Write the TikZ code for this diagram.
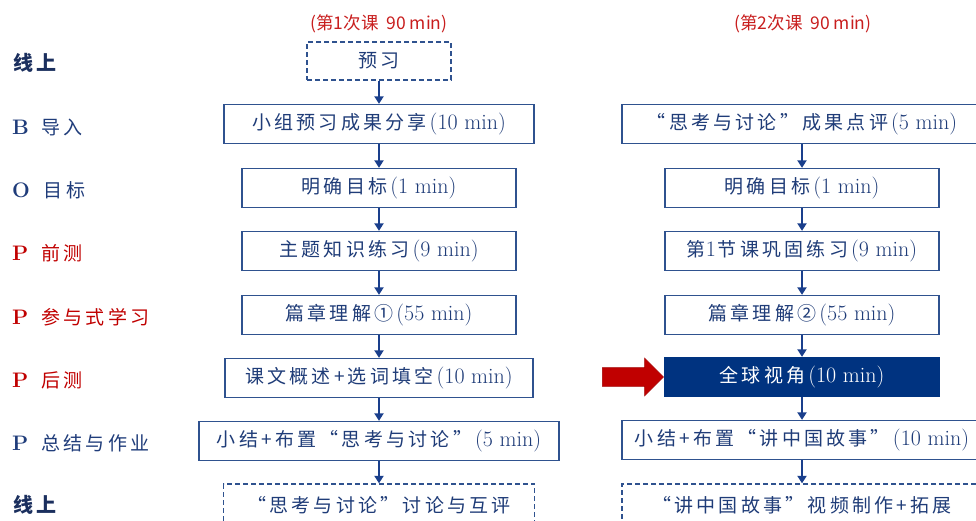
\documentclass[tikz,border=0pt]{standalone}
\usepackage{fontspec}
\usetikzlibrary{arrows.meta,shapes.arrows}
\newfontfamily\cjk[LetterSpace=17]{Noto Sans CJK SC}
\newfontfamily\cjkhead{Noto Sans CJK SC}
\newcommand\lat[1]{\hspace{3pt}{\fontsize{22}{22}\selectfont #1}}
\definecolor{boxblue}{HTML}{2F528F}
\definecolor{txtblue}{HTML}{1F3C78}
\definecolor{arrowblue}{HTML}{1A3F8C}
\definecolor{navyfill}{HTML}{003380}
\definecolor{arrowred}{HTML}{C00000}
\definecolor{headred}{HTML}{C81E1E}
\definecolor{labelblue}{HTML}{1F3C7A}
\definecolor{labelred}{HTML}{C00000}
\definecolor{labelnavy}{HTML}{1B2F5E}
\tikzset{
  box/.style={draw=boxblue, line width=1.3pt, fill=white, text=txtblue, minimum height=39pt, inner sep=0pt, font=\fontsize{19}{19}\selectfont},
  dbox/.style={box, dash pattern=on 5pt off 3pt},
  fbox/.style={box, draw=navyfill, fill=navyfill, text=white},
  flow/.style={draw=arrowblue, line width=2.4pt, -{Triangle[length=7.5pt,width=9pt]}},
  lbl/.style={anchor=west, inner sep=0pt, font=\fontsize{19}{19}\selectfont},
  head/.style={inner sep=0pt, text=headred, font=\cjkhead\fontsize{17.5}{17.5}\selectfont}
}
\begin{document}
\begin{tikzpicture}[x=1pt,y=-1pt]
\useasboundingbox (0,0) rectangle (976,520);
\clip (0,0) rectangle (976,520);
% headers
\node[head] (h1) at (379,24) {(第1次课\ \ 90 min)};
\node[head] (h2) at (803,24) {(第2次课\ \ 90 min)};
% left labels
\node[lbl, text=labelnavy, font=\fontsize{20}{20}\selectfont] (s0) at (13,63) {\cjk\bfseries 线上};
\node[lbl, text=labelblue] (s1) at (12,127) {{\fontsize{21}{21}\selectfont\bfseries B}\hspace{12pt}{\cjk 导入}};
\node[lbl, text=labelblue] (s2) at (12,190) {{\fontsize{21}{21}\selectfont\bfseries O}\hspace{14pt}{\cjk 目标}};
\node[lbl, text=labelred] (s3) at (12,253) {{\fontsize{21}{21}\selectfont\bfseries P}\hspace{13pt}{\cjk 前测}};
\node[lbl, text=labelred] (s4) at (12,317) {{\fontsize{21}{21}\selectfont\bfseries P}\hspace{13pt}{\cjk 参与式学习}};
\node[lbl, text=labelred] (s5) at (12,380) {{\fontsize{21}{21}\selectfont\bfseries P}\hspace{13pt}{\cjk 后测}};
\node[lbl, text=labelblue] (s6) at (12,443) {{\fontsize{21}{21}\selectfont\bfseries P}\hspace{13pt}{\cjk 总结与作业}};
\node[lbl, text=labelnavy, font=\fontsize{20}{20}\selectfont] (s7) at (13,505) {\cjk\bfseries 线上};
% left column
\node[dbox, minimum width=144pt, minimum height=38pt] (l0) at (379,61) {\cjk 预习};
\node[box, minimum width=310pt] (l1) at (379,124) {{\cjk 小组预习成果分享}\lat{(10 min)}};
\node[box, minimum width=274pt] (l2) at (379,188) {{\cjk 明确目标}\lat{(1 min)}};
\node[box, minimum width=274pt] (l3) at (379,251) {{\cjk 主题知识练习}\lat{(9 min)}};
\node[box, minimum width=274pt] (l4) at (379,315) {{\cjk 篇章理解①}\lat{(55 min)}};
\node[box, minimum width=308pt] (l5) at (379,378) {{\cjk 课文概述+选词填空}\lat{(10 min)}};
\node[box, minimum width=360pt] (l6) at (379,441) {{\cjk 小结+布置“思考与讨论”}\lat{(5 min)}};
\node[dbox, minimum width=311pt, minimum height=42pt] (l7) at (379,505) {\cjk “思考与讨论”讨论与互评};
% right column
\node[box, minimum width=360pt] (r1) at (802,124) {{\cjk “思考与讨论”成果点评}\lat{(5 min)}};
\node[box, minimum width=274pt] (r2) at (802,188) {{\cjk 明确目标}\lat{(1 min)}};
\node[box, minimum width=274pt] (r3) at (802,251) {{\cjk 第}{\fontsize{22}{22}\selectfont 1}\hspace{2pt}{\cjk 节课巩固练习}\lat{(9 min)}};
\node[box, minimum width=274pt] (r4) at (802,315) {{\cjk 篇章理解②}\lat{(55 min)}};
\node[fbox, minimum width=275pt] (r5) at (802,377) {{\cjk 全球视角}\lat{(10 min)}};
\node[box, minimum width=360pt] (r6) at (802,440) {{\cjk 小结+布置“讲中国故事”}\lat{(10 min)}};
\node[dbox, minimum width=360pt, minimum height=42pt] (r7) at (802,505) {\cjk “讲中国故事”视频制作+拓展};
% connectors
\draw[flow] (l0) -- (l1);
\draw[flow] (l1) -- (l2);
\draw[flow] (l2) -- (l3);
\draw[flow] (l3) -- (l4);
\draw[flow] (l4) -- (l5);
\draw[flow] (l5) -- (l6);
\draw[flow] (l6) -- (l7);
\draw[flow] (r1) -- (r2);
\draw[flow] (r2) -- (r3);
\draw[flow] (r3) -- (r4);
\draw[flow] (r4) -- (r5);
\draw[flow] (r5) -- (r6);
\draw[flow] (r6) -- (r7);
% red pointer
\node[single arrow, fill=arrowred, draw=arrowred!85!black, line width=0.6pt, minimum height=61pt, inner sep=9pt, single arrow head extend=9.5pt, anchor=tip] (ra) at (r5.west) {};
\end{tikzpicture}
\end{document}
